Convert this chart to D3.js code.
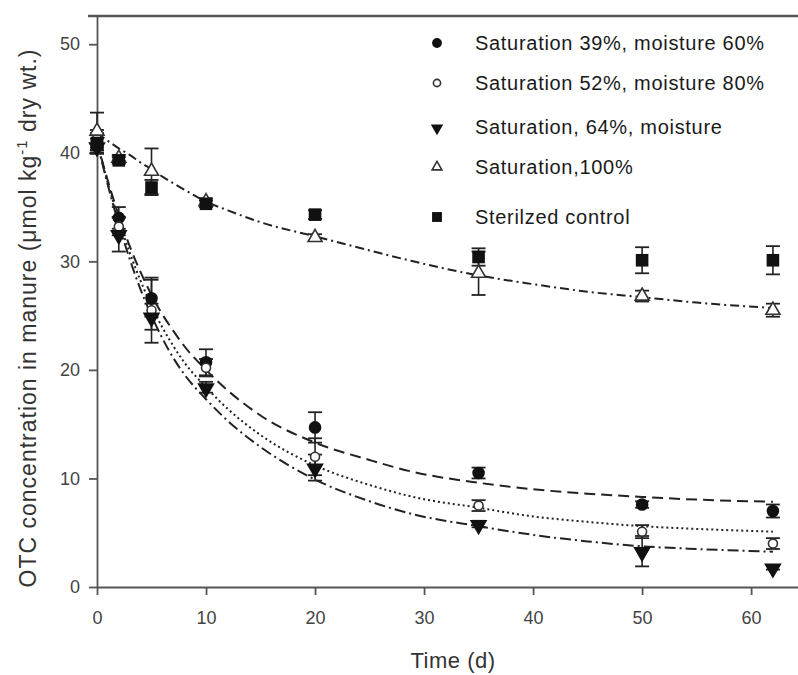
<!DOCTYPE html>
<html><head><meta charset="utf-8">
<script src="https://cdn.jsdelivr.net/npm/d3@7"></script>
<style>body{margin:0;background:#fff;} svg{display:block;}</style>
</head><body>
<svg id="chart" width="798" height="675"></svg>
<script>
// ---- data ----
const times = [0, 2, 5, 10, 20, 35, 50, 62];
const sat39 = [41.0, 34.0, 26.6, 20.7, 14.7, 10.5, 7.6, 7.0];
const sat39Err = [0.8, 1.0, 1.7, 1.2, 1.4, 0.5, 0.3, 0.6];
const sat52 = [41.3, 33.2, 25.5, 20.2, 12.0, 7.5, 5.1, 4.0];
const sat52Err = [0.8, 0.8, 3.0, 0.8, 1.7, 0.5, 0.6, 0.5];
const sat64 = [40.6, 32.5, 24.9, 18.4, 11.0, 5.8, 3.3, 1.8];
const sat64Err = [0.7, 1.6, 1.2, 0.5, 1.2, 0.3, 1.4, 0.2];
const sat100 = [42.0, 39.5, 38.3, 35.5, 32.2, 28.9, 26.8, 25.5];
const sat100Err = [1.7, 0.3, 2.1, 0.3, 0.3, 2.0, 0.5, 0.6];
const control = [40.9, 39.3, 36.8, 35.3, 34.3, 30.4, 30.1, 30.1];
const controlErr = [0.9, 0.3, 0.7, 0.3, 0.4, 0.8, 1.2, 1.3];

// fitted curves
const fitTimes = [0,1,2,3,4,5,6,7,8,10,12,15,20,25,29,35,40,45,50,55,62];
const fit39  = [41.0,37.4,34.2,31.4,29.0,26.9,25.1,23.6,22.2,20.0,18.1,15.8,13.3,11.7,10.6,9.6,9.0,8.6,8.3,8.05,7.85];
const fit52  = [41.0,37.2,33.8,30.8,28.2,25.9,23.9,22.2,20.7,18.4,16.4,14.0,11.2,9.4,8.3,7.3,6.5,6.0,5.6,5.35,5.1];
const fit64  = [41.0,37.0,33.4,30.2,27.4,25.0,22.9,21.1,19.6,17.3,15.3,12.9,9.9,7.9,6.7,5.6,4.8,4.2,3.75,3.5,3.25];
const fit100 = [41.8,41.1,40.4,39.8,39.1,38.5,37.8,37.2,36.6,35.5,34.7,33.6,32.3,31.0,30.0,28.7,27.9,27.2,26.7,26.2,25.7];

const xTicks = [0, 10, 20, 30, 40, 50, 60];
const yTicks = [0, 10, 20, 30, 40, 50];
const legendLabels = ["Saturation 39%, moisture 60%", "Saturation 52%, moisture 80%",
  "Saturation, 64%, moisture", "Saturation,100%", "Sterilzed control"];

// ---- drawing ----
const svg = d3.select("#chart");
const x = d3.scaleLinear().domain([0, 64.3]).range([97, 798]);
const y = d3.scaleLinear().domain([0, 52.6]).range([587, 16]);

const axisColor = "#555";
const font = "'Liberation Sans', Arial, sans-serif";

// top border
svg.append("line").attr("x1", 88).attr("x2", 798).attr("y1", y(52.6)).attr("y2", y(52.6))
  .attr("stroke", "#555").attr("stroke-width", 2.5);

const gx = svg.append("g").attr("transform", `translate(0,${y(0)})`)
  .call(d3.axisBottom(x).tickValues(xTicks).tickSize(8).tickSizeOuter(0).tickPadding(16));
const gy = svg.append("g").attr("transform", `translate(${x(0)},0)`)
  .call(d3.axisLeft(y).tickValues(yTicks).tickSize(8).tickSizeOuter(0).tickPadding(9));
[gx, gy].forEach(g => {
  g.selectAll("path,line").attr("stroke", axisColor).attr("stroke-width", 1.8);
  g.selectAll("text").attr("font-family", font).attr("font-size", 18).attr("fill", "#444");
});

// axis titles
svg.append("text").attr("x", 453).attr("y", 668).attr("text-anchor", "middle")
  .attr("font-family", font).attr("font-size", 22).attr("letter-spacing", 0.5).attr("fill", "#333")
  .text("Time (d)");
const yt = svg.append("text").attr("transform", "translate(36,318) rotate(-90)")
  .attr("text-anchor", "middle").attr("font-family", font).attr("font-size", 23)
  .attr("letter-spacing", 1).attr("fill", "#333");
yt.append("tspan").text("OTC concentration in manure (\u03bcmol kg");
yt.append("tspan").attr("dy", -9).attr("font-size", 15).text("-1");
yt.append("tspan").attr("dy", 9).text(" dry wt.)");

// fit lines
const line = d3.line().x(d => x(d[0])).y(d => y(d[1])).curve(d3.curveMonotoneX);
const fits = [
  {v: fit39, dash: "11,6"},
  {v: fit52, dash: "2,3"},
  {v: fit64, dash: "11,4,2,4"},
  {v: fit100, dash: "9,4,2,4"}
];
fits.forEach(f => {
  svg.append("path").datum(fitTimes.map((t, i) => [t, f.v[i]]))
    .attr("d", line).attr("fill", "none").attr("stroke", "#222")
    .attr("stroke-width", 2).attr("stroke-dasharray", f.dash);
});

// series
const series = [
  {v: sat39, e: sat39Err, sym: "circle", fill: "#111"},
  {v: sat52, e: sat52Err, sym: "circle", fill: "#fff"},
  {v: sat64, e: sat64Err, sym: "down", fill: "#111"},
  {v: sat100, e: sat100Err, sym: "tri", fill: "#fff"},
  {v: control, e: controlErr, sym: "square", fill: "#111"}
];

function drawSymbol(g, sym, fill, cx, cy, scale) {
  scale = scale || 1;
  let p;
  if (sym === "circle") {
    p = g.append("circle").attr("cx", cx).attr("cy", cy).attr("r", (fill === "#fff" ? 4.5 : 5.5) * scale);
  } else if (sym === "square") {
    const s = 11 * scale;
    p = g.append("rect").attr("x", cx - s/2).attr("y", cy - s/2).attr("width", s).attr("height", s);
  } else if (sym === "down") {
    p = g.append("path").attr("d", d3.symbol(d3.symbolTriangle, 95 * scale * scale)())
      .attr("transform", `translate(${cx},${cy + 1}) rotate(180)`);
  } else {
    p = g.append("path").attr("d", d3.symbol(d3.symbolTriangle, 85 * scale * scale)())
      .attr("transform", `translate(${cx},${cy})`);
  }
  p.attr("fill", fill).attr("stroke", fill === "#fff" ? "#333" : "#111").attr("stroke-width", 1.6);
}

const gErr = svg.append("g");
const gMark = svg.append("g");
series.forEach(s => {
  times.forEach((t, i) => {
    const cx = x(t), top = y(s.v[i] + s.e[i]), bot = y(s.v[i] - s.e[i]);
    gErr.append("line").attr("x1", cx).attr("x2", cx).attr("y1", top).attr("y2", bot)
      .attr("stroke", "#222").attr("stroke-width", 1.6);
    [top, bot].forEach(yy => gErr.append("line").attr("x1", cx - 7).attr("x2", cx + 7)
      .attr("y1", yy).attr("y2", yy).attr("stroke", "#222").attr("stroke-width", 1.8));
  });
});
series.forEach(s => {
  times.forEach((t, i) => drawSymbol(gMark, s.sym, s.fill, x(t), y(s.v[i])));
});

// legend
const legY = [43, 83, 127, 167, 217];
const legScale = [0.75, 0.8, 0.65, 0.7, 0.75];
const gLeg = svg.append("g");
series.forEach((s, i) => {
  drawSymbol(gLeg, s.sym, s.fill, 437, legY[i], legScale[i]);
  gLeg.append("text").attr("x", 475).attr("y", legY[i]).attr("dy", "0.36em")
    .attr("font-family", font).attr("font-size", 20).attr("letter-spacing", 0.7)
    .attr("fill", "#1a1a1a").text(legendLabels[i]);
});
</script>
</body></html>
